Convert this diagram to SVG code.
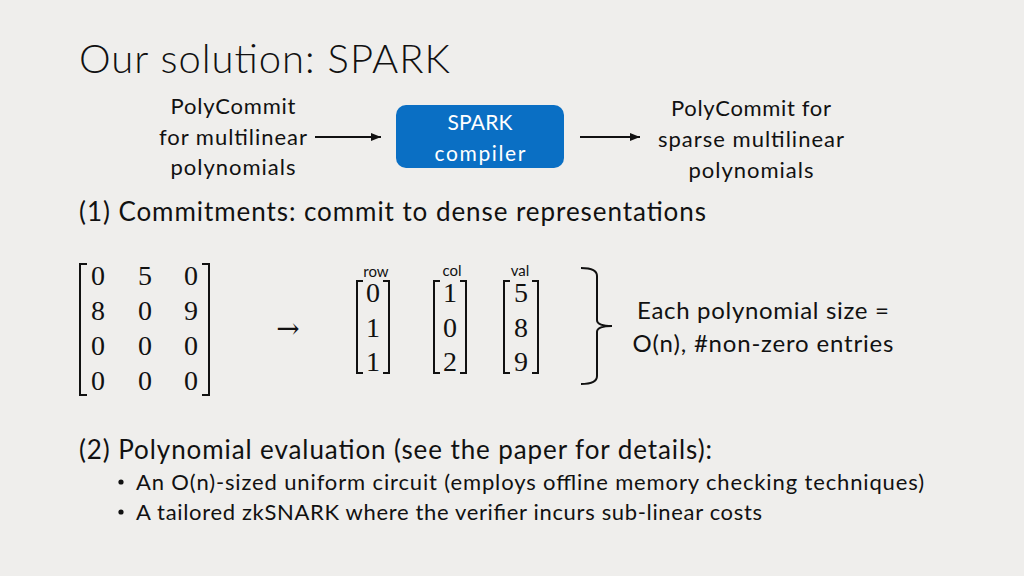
<svg xmlns="http://www.w3.org/2000/svg" width="1024" height="576" viewBox="0 0 1024 576">
<defs>
<style>
.t{font-family:Lato,"Open Sans","Liberation Sans",sans-serif;fill:#111;}
.m{font-family:"Liberation Serif","DejaVu Serif",serif;fill:#111;font-size:28px;}
.br{fill:none;stroke:#111;stroke-width:2;}
.ln{stroke:#111;stroke-width:2;fill:none;}
</style>
<marker id="ah" viewBox="0 0 10 10" refX="10" refY="5" markerWidth="5" markerHeight="5" orient="auto" markerUnits="strokeWidth">
<path d="M0,1 L10,5 L0,9 z" fill="#111"/>
</marker>
</defs>
<rect width="1024" height="576" fill="#efeeec"/>
<g id="title"><text class="t" x="79" y="73" font-size="40" font-weight="300" textLength="371">Our solution: SPARK</text></g>

<g id="node-input">
<text class="t" x="233" y="114" font-size="22" text-anchor="middle" textLength="125">PolyCommit</text>
<text class="t" x="233" y="145" font-size="22" text-anchor="middle" textLength="148">for multilinear</text>
<text class="t" x="233" y="175" font-size="22" text-anchor="middle" textLength="125">polynomials</text>
</g>
<g id="node-spark">
<rect x="396" y="105" width="168" height="63" rx="10" fill="#0a6fc4"/>
<text x="480" y="130" font-size="21" text-anchor="middle" fill="#fff" font-family="Lato,'Open Sans',sans-serif" textLength="65">SPARK</text>
<text x="480" y="161" font-size="21" text-anchor="middle" fill="#fff" font-family="Lato,'Open Sans',sans-serif" textLength="91">compiler</text>
</g>
<g id="node-output">
<text class="t" x="751" y="116" font-size="22" text-anchor="middle" textLength="160">PolyCommit for</text>
<text class="t" x="751" y="147" font-size="22" text-anchor="middle" textLength="186">sparse multilinear</text>
<text class="t" x="751" y="178" font-size="22" text-anchor="middle" textLength="125">polynomials</text>
</g>
<g id="connectors">
<line class="ln" x1="315" y1="137" x2="381" y2="137" marker-end="url(#ah)"/>
<line class="ln" x1="580" y1="137" x2="640" y2="137" marker-end="url(#ah)"/>
</g>

<g id="heading1"><text class="t" x="79" y="221" font-size="26" textLength="627">(1) Commitments: commit to dense representations</text></g>

<g id="matrix">
<path class="br" d="M87,264 H80 V395 H87"/>
<path class="br" d="M202,264 H209 V395 H202"/>
<text class="m" x="98" y="285" text-anchor="middle">0</text>
<text class="m" x="145" y="285" text-anchor="middle">5</text>
<text class="m" x="191" y="285" text-anchor="middle">0</text>
<text class="m" x="98" y="320" text-anchor="middle">8</text>
<text class="m" x="145" y="320" text-anchor="middle">0</text>
<text class="m" x="191" y="320" text-anchor="middle">9</text>
<text class="m" x="98" y="355" text-anchor="middle">0</text>
<text class="m" x="145" y="355" text-anchor="middle">0</text>
<text class="m" x="191" y="355" text-anchor="middle">0</text>
<text class="m" x="98" y="390" text-anchor="middle">0</text>
<text class="m" x="145" y="390" text-anchor="middle">0</text>
<text class="m" x="191" y="390" text-anchor="middle">0</text>
</g>
<g id="maps-to"><text x="288" y="338" text-anchor="middle" font-size="28" font-family="'DejaVu Serif',serif" fill="#111">→</text></g>

<g id="vec-row">
<text class="t" x="376" y="277" font-size="15" text-anchor="middle">row</text>
<path class="br" d="M363,281 H357 V373 H363"/>
<path class="br" d="M383,281 H389 V373 H383"/>
<text class="m" x="373" y="302" text-anchor="middle">0</text>
<text class="m" x="373" y="337" text-anchor="middle">1</text>
<text class="m" x="373" y="371" text-anchor="middle">1</text>
</g>
<g id="vec-col">
<text class="t" x="452" y="276" font-size="15" text-anchor="middle">col</text>
<path class="br" d="M440,281 H434 V373 H440"/>
<path class="br" d="M460,281 H466 V373 H460"/>
<text class="m" x="450" y="302" text-anchor="middle">1</text>
<text class="m" x="450" y="337" text-anchor="middle">0</text>
<text class="m" x="450" y="371" text-anchor="middle">2</text>
</g>
<g id="vec-val">
<text class="t" x="520" y="276" font-size="15" text-anchor="middle">val</text>
<path class="br" d="M510,281 H504 V373 H510"/>
<path class="br" d="M532,281 H538 V373 H532"/>
<text class="m" x="521" y="302" text-anchor="middle">5</text>
<text class="m" x="521" y="337" text-anchor="middle">8</text>
<text class="m" x="521" y="371" text-anchor="middle">9</text>
</g>

<g id="brace">
<path class="br" d="M581,268 Q597,268 597,276 V320 Q597,326 612,326 Q597,326 597,332 V376 Q597,384 581,384"/>
</g>
<g id="brace-label">
<text class="t" x="763" y="319" font-size="24" text-anchor="middle" textLength="252">Each polynomial size =</text>
<text class="t" x="763" y="352" font-size="24" text-anchor="middle" textLength="261">O(n), #non-zero entries</text>
</g>

<g id="heading2"><text class="t" x="79" y="459" font-size="26" textLength="633">(2) Polynomial evaluation (see the paper for details):</text></g>
<g id="bullets">
<circle cx="121" cy="482" r="2.6" fill="#111"/>
<text class="t" x="136" y="490" font-size="22" textLength="788">An O(n)-sized uniform circuit (employs offline memory checking techniques)</text>
<circle cx="121" cy="512" r="2.6" fill="#111"/>
<text class="t" x="136" y="520" font-size="22" textLength="626">A tailored zkSNARK where the verifier incurs sub-linear costs</text>
</g>
</svg>
